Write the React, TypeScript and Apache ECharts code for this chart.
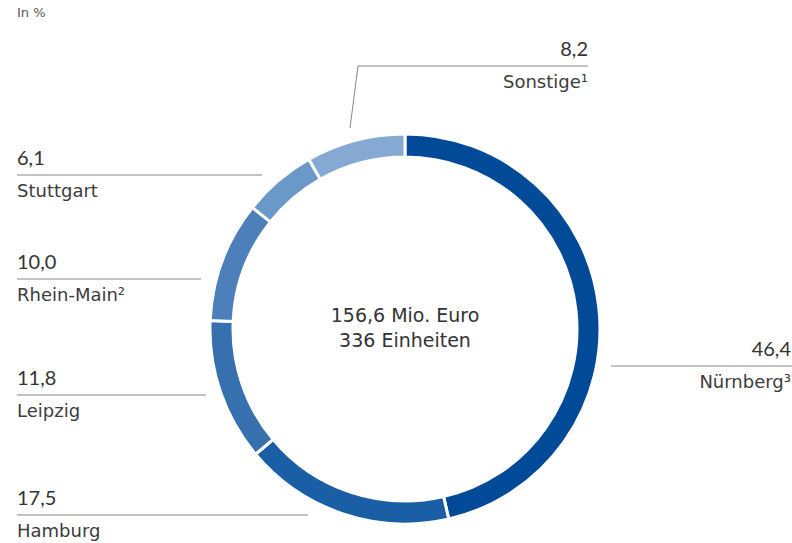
import React, { useEffect, useRef } from "react";
import * as echarts from "echarts";

const regions = ["Nürnberg³", "Hamburg", "Leipzig", "Rhein-Main²", "Stuttgart", "Sonstige¹"];
const shares = [46.4, 17.5, 11.8, 10.0, 6.1, 8.2];
const shareLabels = ["46,4", "17,5", "11,8", "10,0", "6,1", "8,2"];
const colors = ["#004a98", "#1a5ea6", "#3670ae", "#4d80bb", "#6a98c8", "#86a9d3"];
const centerLines = ["156,6 Mio. Euro", "336 Einheiten"];
const unitLabel = "In %";

// label placement: text x, separator line y, alignment, leader line points
const labelPlacement: any[] = [
  { x: 791, y: 366, align: "right", pts: [[611, 366], [792, 366]] },
  { x: 17, y: 515, align: "left", pts: [[308, 515], [17, 515]] },
  { x: 17, y: 395, align: "left", pts: [[206, 395], [17, 395]] },
  { x: 17, y: 279, align: "left", pts: [[201, 279], [17, 279]] },
  { x: 17, y: 175, align: "left", pts: [[262, 175], [17, 175]] },
  { x: 588, y: 66, align: "right", pts: [[350, 128], [358, 66], [588, 66]] },
];

const NUM_FONT = "Lato, 'Noto Sans', sans-serif";
const TXT_FONT = "'DejaVu Sans', 'Noto Sans', sans-serif";

export default function App() {
  const ref = useRef<HTMLDivElement>(null);
  useEffect(() => {
    if (!ref.current) return;
    const chart = echarts.init(ref.current, null, { renderer: "svg" });
    chart.setOption({
      animation: false,
      backgroundColor: "#ffffff",
      graphic: [
        {
          type: "text",
          left: 17,
          top: 6,
          style: { text: unitLabel, fontSize: 13, fill: "#555", fontFamily: TXT_FONT },
        },
        {
          type: "text",
          x: 405,
          y: 327,
          style: {
            text: centerLines.join("\n"),
            fontSize: 19,
            lineHeight: 25,
            fill: "#333",
            align: "center",
            verticalAlign: "middle",
            fontFamily: TXT_FONT,
          },
        },
      ],
      series: [
        {
          type: "pie",
          center: [405, 329],
          radius: [172, 195],
          startAngle: 90,
          clockwise: true,
          silent: true,
          avoidLabelOverlap: false,
          itemStyle: { borderColor: "#ffffff", borderWidth: 3 },
          label: {
            show: true,
            position: "outside",
            formatter: (p: any) => `{v|${shareLabels[p.dataIndex]}}\n{n|${p.name}}`,
            rich: {
              v: { fontSize: 20, lineHeight: 36, color: "#333", fontFamily: NUM_FONT },
              n: { fontSize: 18, lineHeight: 30, color: "#3c3c3c", fontFamily: TXT_FONT },
            },
          },
          labelLine: { show: true, smooth: false, lineStyle: { color: "#888", width: 1 } },
          labelLayout: (params: any) => {
            const p = labelPlacement[params.dataIndex];
            return {
              x: p.x,
              y: p.y - 36,
              align: p.align,
              verticalAlign: "top",
              labelLinePoints: p.pts,
            };
          },
          data: regions.map((name, i) => ({
            name,
            value: shares[i],
            itemStyle: { color: colors[i] },
          })),
        },
      ],
    });
    return () => chart.dispose();
  }, []);
  return (
    <div
      ref={ref}
      style={{ position: "fixed", left: 0, top: 0, width: 792, height: 543 }}
    />
  );
}
